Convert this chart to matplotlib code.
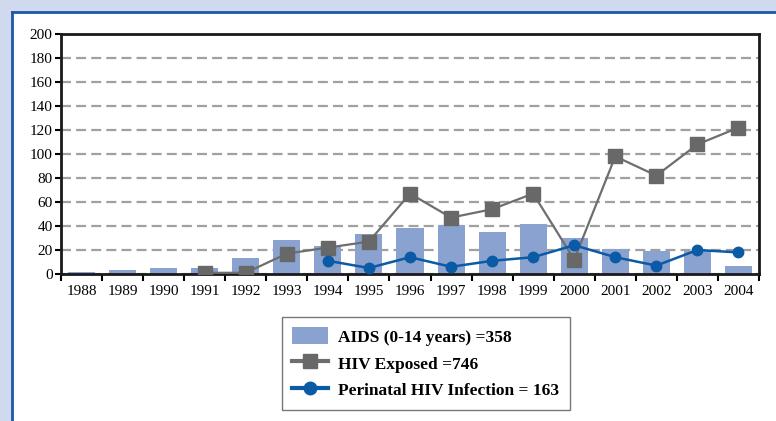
import numpy as np
import matplotlib.pyplot as plt
from matplotlib.patches import Rectangle
from matplotlib.lines import Line2D

# values
years = ['1988', '1989', '1990', '1991', '1992', '1993', '1994', '1995', '1996',
         '1997', '1998', '1999', '2000', '2001', '2002', '2003', '2004']
aids = [2, 3, 5, 5, 13, 28, 23, 33, 38, 41, 35, 42, 30, 21, 19, 19, 7]
hiv_exposed = [np.nan, np.nan, np.nan, 1, 1, 17, 22, 27, 67, 47, 54, 67, 12, 98, 82, 108, 122]
perinatal = [np.nan, np.nan, np.nan, np.nan, np.nan, np.nan, 11, 5, 14, 6, 11, 14, 24, 14, 7, 20, 18]
labels = ['AIDS (0-14 years) =358', 'HIV Exposed =746', 'Perinatal HIV Infection = 163']

plt.rcParams['font.family'] = ['Liberation Serif', 'DejaVu Serif']

W, H = 776, 421
fig = plt.figure(figsize=(W / 100, H / 100), dpi=100)
fig.patch.set_facecolor('#d0d9ee')

# white panel with blue border on left and top
fig.add_artist(Rectangle((12 / W, 0), 1, (H - 12) / H, transform=fig.transFigure,
                         facecolor='white', edgecolor='none', zorder=0))
fig.add_artist(Line2D([12 / W, 12 / W], [0, (H - 12) / H], transform=fig.transFigure,
                      color='#1a5aa6', lw=2, zorder=1))
fig.add_artist(Line2D([12 / W, 1], [(H - 12) / H, (H - 12) / H], transform=fig.transFigure,
                      color='#1a5aa6', lw=2, zorder=1))

ax = fig.add_axes([61 / W, 147 / H, 698 / W, 240 / H])
ax.set_facecolor('white')
x = np.arange(len(years))

ax.bar(x, aids, width=0.66, color='#8aa2d0', zorder=2)
ax.plot(x, hiv_exposed, color='#6e6e6e', lw=1.6, marker='s', markersize=10,
        markerfacecolor='#686868', markeredgecolor='#686868', zorder=3)
ax.plot(x, perinatal, color='#0b5aa5', lw=1.8, marker='o', markersize=7.5,
        markerfacecolor='#0b5aa5', markeredgecolor='#0b5aa5', zorder=4)

ax.set_xlim(-0.5, len(years) - 0.5)
ax.set_ylim(0, 200)
ax.set_yticks(range(0, 201, 20))
ax.yaxis.grid(True, linestyle=(0, (4.5, 2.3)), color='#a0a0a0', lw=1.6)
ax.set_axisbelow(True)

ax.set_xticks(x)
ax.set_xticklabels(years)
ax.set_xticks(np.arange(-0.5, len(years)), minor=True)
ax.tick_params(axis='x', which='major', length=0, labelsize=11, pad=8)
ax.tick_params(axis='x', which='minor', length=5, width=1.5, direction='out')
ax.tick_params(axis='y', length=4, width=1.5, labelsize=11, pad=2)

for s in ax.spines.values():
    s.set_linewidth(2)
    s.set_color('#1a1a1a')

handles = [
    Rectangle((0, 0), 1, 1, facecolor='#8aa2d0', edgecolor='none'),
    Line2D([], [], color='#6e6e6e', lw=3, marker='s', markersize=10,
           markerfacecolor='#686868', markeredgecolor='#686868'),
    Line2D([], [], color='#0b5aa5', lw=3, marker='o', markersize=9,
           markerfacecolor='#0b5aa5', markeredgecolor='#0b5aa5'),
]
leg = fig.legend(handles, labels, loc='upper left',
                 bbox_to_anchor=(282 / W, (H - 317) / H), borderaxespad=0,
                 frameon=True, fancybox=False, edgecolor='#555555',
                 handlelength=2.05, handleheight=1.1, handletextpad=0.6,
                 borderpad=0.6, labelspacing=0.5,
                 prop={'weight': 'bold', 'size': 12.5})
leg.get_frame().set_linewidth(1)

fig.savefig('out.png', dpi=100, facecolor=fig.get_facecolor())
